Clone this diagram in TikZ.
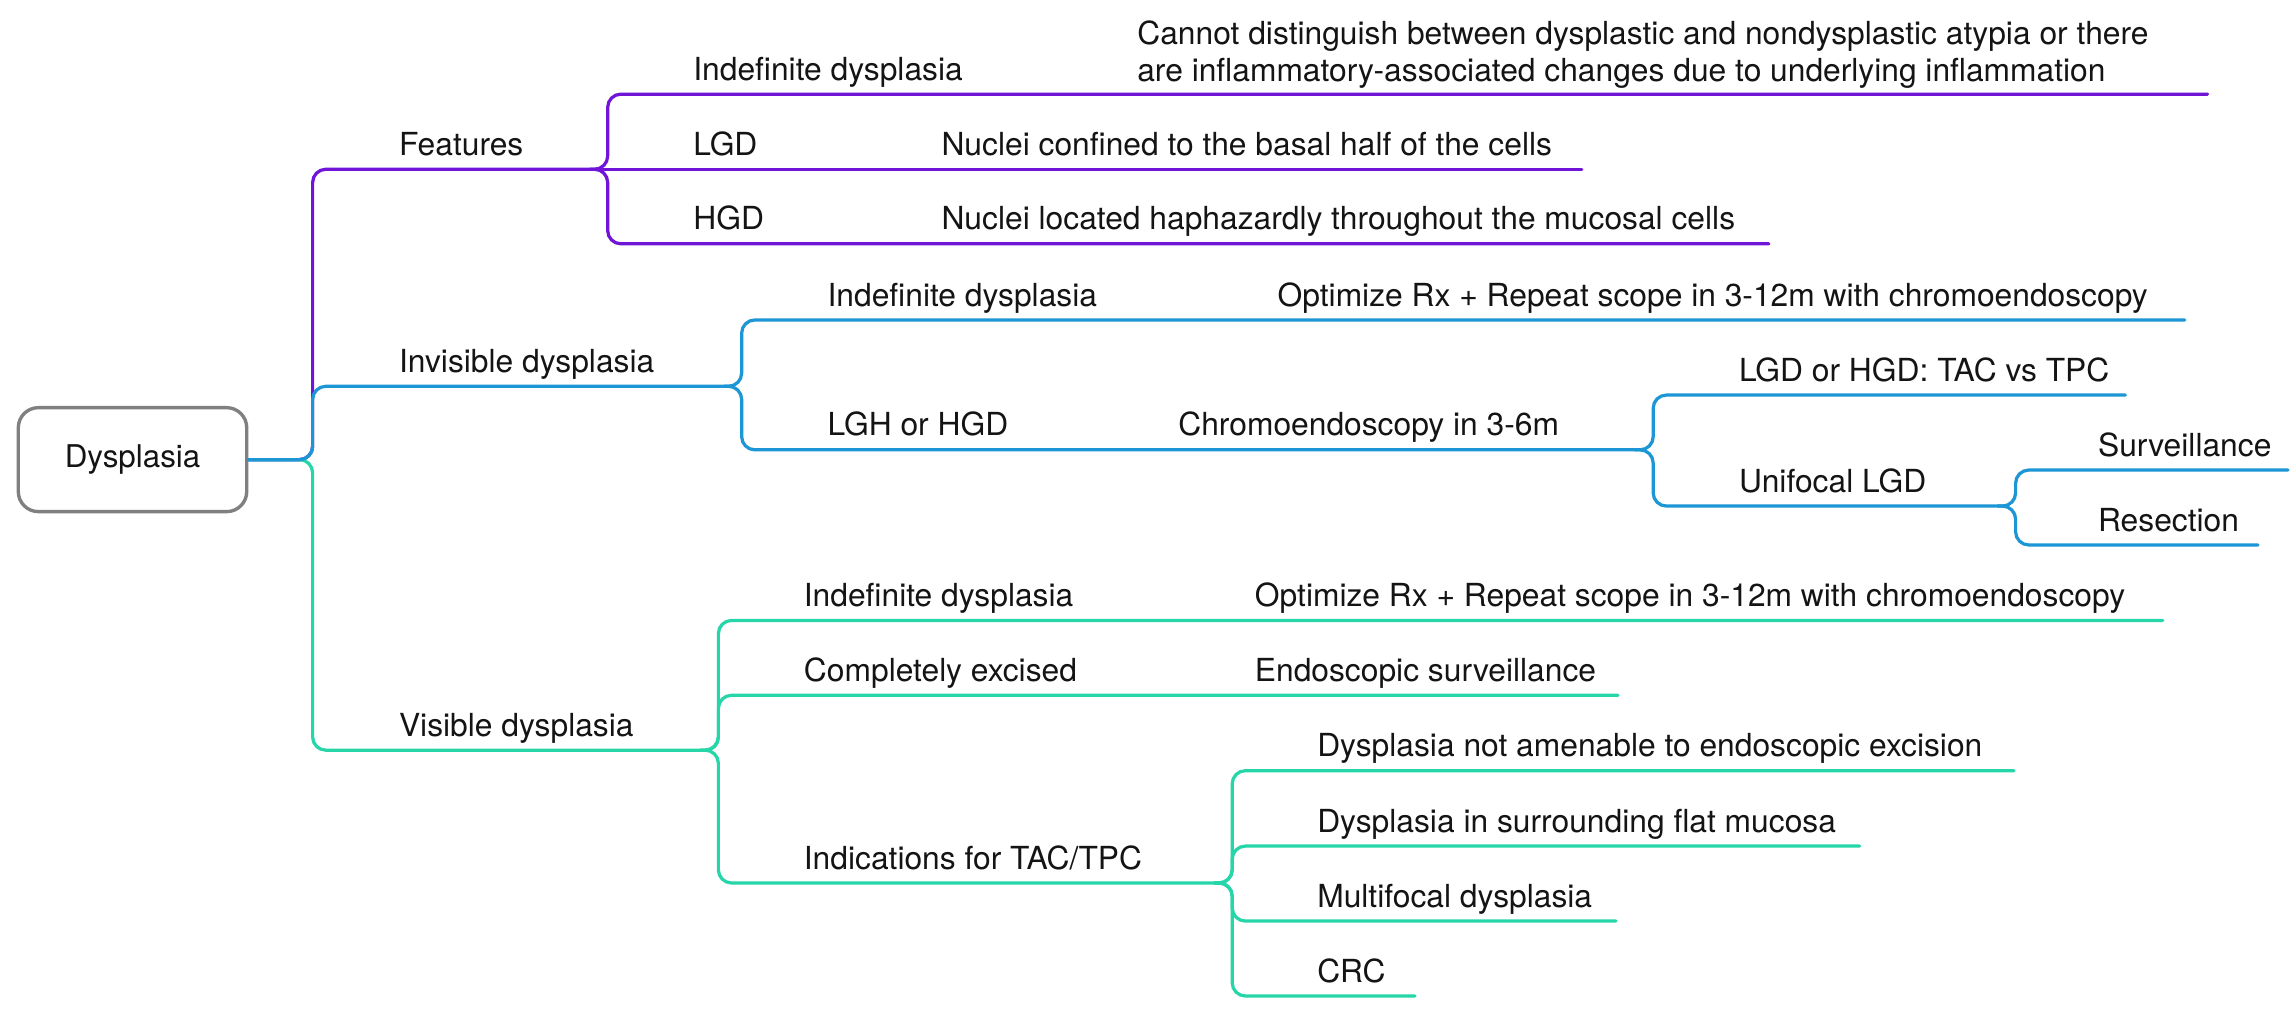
\documentclass[tikz,border=0pt]{standalone}
\usepackage{fontspec}
\setmainfont{TeX Gyre Heros}
\definecolor{cpurp}{RGB}{112,20,216}
\definecolor{cblue}{RGB}{28,150,212}
\definecolor{cteal}{RGB}{38,214,168}
\definecolor{cbox}{RGB}{128,128,128}
\definecolor{ctext}{RGB}{20,20,20}
\tikzset{
  lbl/.style={anchor=base west, inner sep=0pt, outer sep=0pt, text=ctext, font=\fontsize{21.7}{25.5}\selectfont},
  conn/.style={line width=2.2pt, line cap=round, rounded corners=9pt},
  purp/.style={conn, draw=cpurp},
  blue/.style={conn, draw=cblue},
  teal/.style={conn, draw=cteal},
  rootbox/.style={draw=cbox, line width=2.3pt, rounded corners=13.7pt, minimum width=156pt, minimum height=71pt, inner sep=0pt, fill=white, text=ctext, font=\fontsize{21.4}{25.5}\selectfont}
}
\begin{document}
\begin{tikzpicture}[x=1pt,y=-1pt]
\useasboundingbox (0,0) rectangle (1568,696);
\fill[white] (0,0) rectangle (1568,696);

% ---------- coordinates ----------
\coordinate (r0) at (213.5,313.9);
% first level line ends (cusp starts)
\coordinate (feat-e) at (403,115.6);
\coordinate (featT) at (415,115.6);
\coordinate (inv-e) at (494.5,263.8);
\coordinate (invT) at (506.5,263.8);
\coordinate (vis-e) at (478.6,512.3);
\coordinate (visT) at (490.6,512.3);
% features children
\coordinate (fi-e) at (1507.6,64.3);
\coordinate (fl-e) at (1080.2,115.6);
\coordinate (fh-e) at (1208,166.5);
% invisible children
\coordinate (ii-e) at (1492,218.5);
\coordinate (il-e) at (1117,307.2);
\coordinate (chT) at (1129,307.2);
\coordinate (cl-e) at (1451.5,269.8);
\coordinate (cu-e) at (1364.5,345.6);
\coordinate (unT) at (1376.5,345.6);
\coordinate (us-e) at (1562.5,321);
\coordinate (ur-e) at (1542,372.2);
% visible children
\coordinate (vi-e) at (1477,423.7);
\coordinate (vc-e) at (1105,474.8);
\coordinate (vt-e) at (829.5,603);
\coordinate (inT) at (841.5,603);
\coordinate (d1-e) at (1375.4,526.3);
\coordinate (d2-e) at (1270,577.8);
\coordinate (d3-e) at (1103.6,629);
\coordinate (d4-e) at (966.3,680.2);

% ---------- root ----------
\node[rootbox] (root) at (90.5,313.9) {Dysplasia};

% ---------- connectors ----------
% purple branch
\draw[purp] (root.east) -- (r0) -- (r0 |- feat-e) -- (feat-e);
\draw[purp] (feat-e) -- (featT) -- (featT |- fi-e) -- (fi-e);
\draw[purp] (feat-e) -- (fl-e);
\draw[purp] (feat-e) -- (featT) -- (featT |- fh-e) -- (fh-e);
% teal branch
\draw[teal] (root.east) -- (r0) -- (r0 |- vis-e) -- (vis-e);
\draw[teal] (vis-e) -- (visT) -- (visT |- vi-e) -- (vi-e);
\draw[teal] (vis-e) -- (visT) -- (visT |- vc-e) -- (vc-e);
\draw[teal] (vis-e) -- (visT) -- (visT |- vt-e) -- (vt-e);
\draw[teal] (vt-e) -- (inT) -- (inT |- d1-e) -- (d1-e);
\draw[teal] (vt-e) -- (inT) -- (inT |- d2-e) -- (d2-e);
\draw[teal] (vt-e) -- (inT) -- (inT |- d3-e) -- (d3-e);
\draw[teal] (vt-e) -- (inT) -- (inT |- d4-e) -- (d4-e);
% blue branch
\draw[blue] (root.east) -- (r0) -- (r0 |- inv-e) -- (inv-e);
\draw[blue] (inv-e) -- (invT) -- (invT |- ii-e) -- (ii-e);
\draw[blue] (inv-e) -- (invT) -- (invT |- il-e) -- (il-e);
\draw[blue] (il-e) -- (chT) -- (chT |- cl-e) -- (cl-e);
\draw[blue] (il-e) -- (chT) -- (chT |- cu-e) -- (cu-e);
\draw[blue] (cu-e) -- (unT) -- (unT |- us-e) -- (us-e);
\draw[blue] (cu-e) -- (unT) -- (unT |- ur-e) -- (ur-e);

% ---------- labels ----------
\node[lbl] (feat) at (272.5,106.1) {Features};
\node[lbl] (inv) at (272.5,254.3) {Invisible dysplasia};
\node[lbl] (vis) at (272.5,502.8) {Visible dysplasia};

\node[lbl] (fi) at (473.5,54.8) {Indefinite dysplasia};
\node[lbl] (fi-leaf) at (776.7,55.8) {\begin{tabular}[b]{@{}l@{}}Cannot distinguish between dysplastic and nondysplastic atypia or there\\are inflammatory-associated changes due to underlying inflammation\end{tabular}};
\node[lbl] (fl) at (473.5,106.1) {LGD};
\node[lbl] (fl-leaf) at (643,106.1) {Nuclei confined to the basal half of the cells};
\node[lbl] (fh) at (473.5,157) {HGD};
\node[lbl] (fh-leaf) at (643,157) {Nuclei located haphazardly throughout the mucosal cells};

\node[lbl] (ii) at (565.2,209) {Indefinite dysplasia};
\node[lbl] (ii-leaf) at (872.5,209) {Optimize Rx + Repeat scope in 3-12m with chromoendoscopy};
\node[lbl] (il) at (565.2,297.7) {LGH or HGD};
\node[lbl] (ch) at (804.7,297.7) {Chromoendoscopy in 3-6m};
\node[lbl] (cl) at (1187.6,260.3) {LGD or HGD: TAC vs TPC};
\node[lbl] (cu) at (1187.6,336.1) {Unifocal LGD};
\node[lbl] (us) at (1432.8,311.5) {Surveillance};
\node[lbl] (ur) at (1432.8,362.7) {Resection};

\node[lbl] (vi) at (549,414.2) {Indefinite dysplasia};
\node[lbl] (vi-leaf) at (857,414.2) {Optimize Rx + Repeat scope in 3-12m with chromoendoscopy};
\node[lbl] (vc) at (549,465.3) {Completely excised};
\node[lbl] (vc-leaf) at (857,465.3) {Endoscopic surveillance};
\node[lbl] (vt) at (549,593.5) {Indications for TAC/TPC};
\node[lbl] (d1) at (899.6,516.8) {Dysplasia not amenable to endoscopic excision};
\node[lbl] (d2) at (899.6,568.3) {Dysplasia in surrounding flat mucosa};
\node[lbl] (d3) at (899.6,619.5) {Multifocal dysplasia};
\node[lbl] (d4) at (899.6,670.7) {CRC};
\end{tikzpicture}
\end{document}
